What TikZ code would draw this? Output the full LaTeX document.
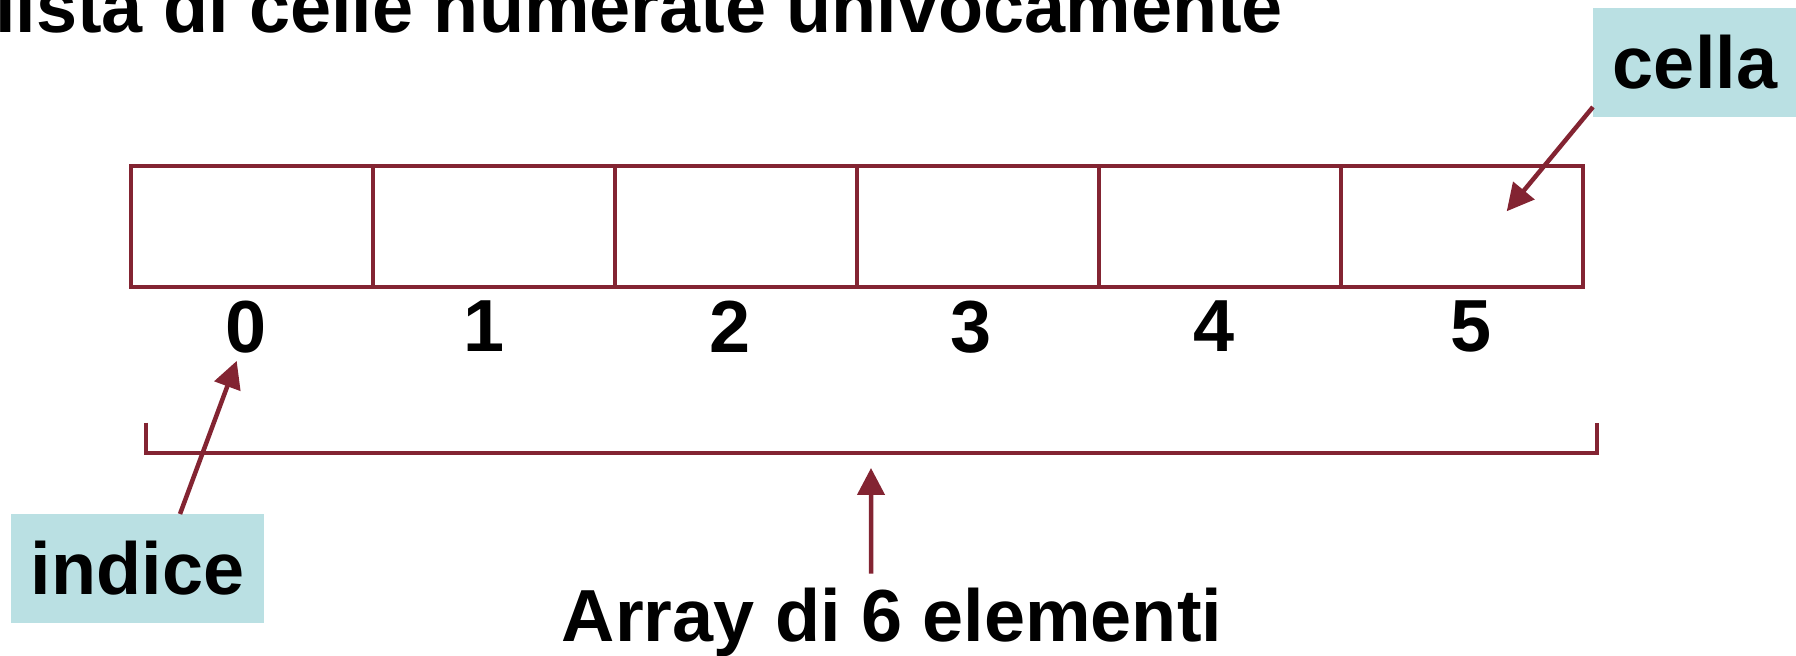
\documentclass[tikz,border=0pt]{standalone}
\usepackage{fontspec}
\setmainfont{Liberation Sans}
\usetikzlibrary{positioning,arrows.meta}
\definecolor{bordeaux}{HTML}{832432}
\definecolor{azzurro}{HTML}{BAE0E3}

\begin{document}
\begin{tikzpicture}[
    >={Triangle[length=2.7mm,width=2.7mm]},
    casella/.style={draw=bordeaux, line width=0.04cm, minimum width=2.42cm,
                    minimum height=1.207cm, inner sep=0pt, outer sep=0pt},
    cifra/.style={font=\fontsize{21}{25}\selectfont\bfseries,
                  inner sep=0pt, outer sep=0pt},
    etichetta/.style={fill=azzurro, font=\fontsize{21}{25}\selectfont\bfseries,
                      inner xsep=0.2cm, inner ysep=0pt, minimum height=1.09cm,
                      outer sep=0pt},
    freccia/.style={->, draw=bordeaux, line width=0.045cm}
  ]
  \useasboundingbox (0,0) rectangle (17.96,-6.56);

  \node[cifra, anchor=base west] (titolo) at (-0.05,-0.33) {lista di celle numerate univocamente};

  % celle dell'array
  \node[casella] (c0) at (2.517,-2.263) {};
  \node[casella] (c1) [right=0pt of c0] {};
  \node[casella] (c2) [right=0pt of c1] {};
  \node[casella] (c3) [right=0pt of c2] {};
  \node[casella] (c4) [right=0pt of c3] {};
  \node[casella] (c5) [right=0pt of c4] {};

  % indici
  \node[cifra] (n0) [below=0.14cm of c0, xshift=-0.06cm] {0};
  \node[cifra] (n1) [below=0.14cm of c1, xshift=-0.10cm] {1};
  \node[cifra] (n2) [below=0.14cm of c2, xshift=-0.06cm] {2};
  \node[cifra] (n3) [below=0.14cm of c3, xshift=-0.07cm] {3};
  \node[cifra] (n4) [below=0.14cm of c4, xshift=-0.06cm] {4};
  \node[cifra] (n5) [below=0.14cm of c5, xshift=0.09cm] {5};

  % parentesi sotto l'array
  \coordinate (sx) at (1.457,-4.527);
  \coordinate (dx) at (15.97,-4.527);
  \draw[bordeaux, line width=0.04cm] ([yshift=0.3cm]sx) -- (sx) -- (dx) -- ([yshift=0.3cm]dx);
  \coordinate (centro) at (8.71,-4.68);

  \node[etichetta] (cella) at (16.95,-0.625) {cella};
  \node[etichetta] (indice) at (1.375,-5.685) {indice};
  \node[cifra, anchor=base] (totale) at (8.92,-6.41) {Array di 6 elementi};

  \draw[freccia] ([yshift=0.1cm]cella.south west) -- ([xshift=0.45cm,yshift=0.15cm]c5.center);
  \draw[freccia] ([xshift=0.425cm]indice.north) -- ([xshift=-0.09cm,yshift=-0.08cm]n0.south);
  \draw[freccia] ([xshift=-0.21cm,yshift=0.14cm]totale.north) -- (centro);

\end{tikzpicture}
\end{document}
